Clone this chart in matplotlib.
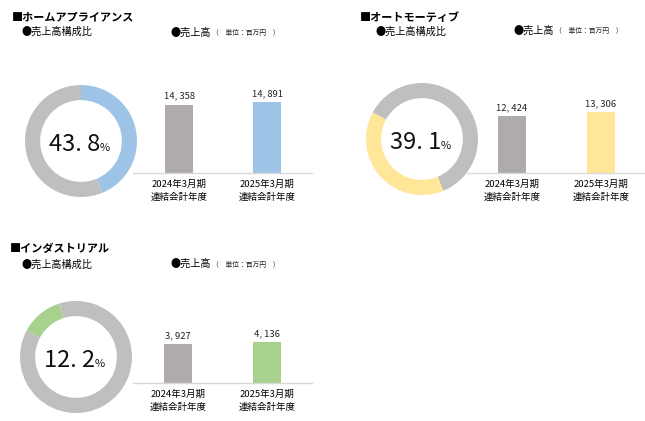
import matplotlib
matplotlib.use("Agg")
import matplotlib.pyplot as plt

plt.rcParams['font.family'] = ['Noto Sans CJK JP', 'DejaVu Sans']

# ---- data ----
segments = ['ホームアプライアンス', 'オートモーティブ', 'インダストリアル']
share = [43.8, 39.1, 12.2]
sales_2024 = [14358, 12424, 3927]
sales_2025 = [14891, 13306, 4136]
periods = ['2024年3月期\n連結会計年度', '2025年3月期\n連結会計年度']

# ---- style ----
seg_colors = ['#9DC3E6', '#FFE699', '#A9D18E']
ring_gray = '#BFBFBF'
bar_gray = '#AFABAB'

W, H = 645, 421
fig = plt.figure(figsize=(W / 100, H / 100), dpi=100)
fig.patch.set_facecolor('white')


def fx(x):
    return x / W


def fy(y):
    return 1 - y / H


def add_ax(x0, y0, x1, y1):
    # pixel box (top-left origin)
    return fig.add_axes([fx(x0), fy(y1), (x1 - x0) / W, (y1 - y0) / H])


layouts = [
    dict(title=(12, 17), sub=(22, 32), head=(170, 33), donut=(81, 141), r=56,
         bar_x=(133, 312), base=173, centers=(179, 267), ymax=16780),
    dict(title=(360, 17), sub=(376, 32), head=(513, 31), donut=(422, 139), r=56,
         bar_x=(467, 645), base=173, centers=(512, 601), ymax=17450),
    dict(title=(10, 248), sub=(22, 265), head=(170, 264), donut=(76, 357), r=56,
         bar_x=(133, 312), base=383, centers=(178, 267), ymax=8070),
]

for i, L in enumerate(layouts):
    fig.text(fx(L['title'][0]), fy(L['title'][1]), '■' + segments[i], fontsize=8,
             fontweight='bold', va='center', ha='left')
    fig.text(fx(L['sub'][0]), fy(L['sub'][1]), '●売上高構成比', fontsize=7.3,
             va='center', ha='left')
    fig.text(fx(L['head'][0]), fy(L['head'][1]), '●売上高', fontsize=7.3,
             va='center', ha='left')
    fig.text(fx(L['head'][0] + 42), fy(L['head'][1] + 0.5), '（　単位：百万円　）', fontsize=4.9,
             va='center', ha='left', color='#222222')

    # donut: gray before, highlighted share, gray after
    before = sum(share[:i])
    after = 100 - before - share[i]
    vals_p, cols = [], []
    if before > 0:
        vals_p.append(before)
        cols.append(ring_gray)
    vals_p.append(share[i])
    cols.append(seg_colors[i])
    vals_p.append(after)
    cols.append(ring_gray)

    cx, cy = L['donut']
    r = L['r']
    axd = add_ax(cx - r, cy - r, cx + r, cy + r)
    wedges, _ = axd.pie(vals_p, colors=cols, startangle=90, counterclock=False,
                        radius=1.0, wedgeprops=dict(width=0.27, linewidth=0))
    axd.set_xlim(-1, 1)
    axd.set_ylim(-1, 1)
    axd.set_aspect('equal')
    axd.axis('off')
    big = f"{share[i]:.1f}".replace('.', '. ')
    fig.text(fx(cx + 19), fy(cy + 10), big, fontsize=17, ha='right', va='baseline',
             color='#111111')
    fig.text(fx(cx + 19), fy(cy + 10), '%', fontsize=8, ha='left', va='baseline',
             color='#111111')

    # bars
    bx0, bx1 = L['bar_x']
    base = L['base']
    axb = add_ax(bx0, base - 80, bx1, base)
    wpx = bx1 - bx0
    c0 = (L['centers'][0] - bx0) / wpx
    c1 = (L['centers'][1] - bx0) / wpx
    span = 1 / (c1 - c0)
    left = -c0 * span
    axb.set_xlim(left, left + span)
    axb.set_ylim(0, L['ymax'])
    vals = [sales_2024[i], sales_2025[i]]
    bw = 28 / wpx * span
    bars = axb.bar([0, 1], vals, width=bw, color=[bar_gray, seg_colors[i]], linewidth=0)
    for b, v in zip(bars, vals):
        axb.annotate(f"{v:,}".replace(',', ', '), (b.get_x() + b.get_width() / 2, v),
                     xytext=(0, 3), textcoords='offset points', ha='center',
                     va='bottom', fontsize=6.8, color='#222222')
    for s in ['top', 'right', 'left']:
        axb.spines[s].set_visible(False)
    axb.spines['bottom'].set_color('#D9D9D9')
    axb.spines['bottom'].set_linewidth(1)
    axb.set_yticks([])
    axb.set_xticks([0, 1])
    axb.set_xticklabels(periods, fontsize=6.8, linespacing=1.6)
    axb.tick_params(axis='x', length=0, pad=5)
    axb.patch.set_alpha(0)

fig.savefig('out.png', dpi=100, facecolor='white')
